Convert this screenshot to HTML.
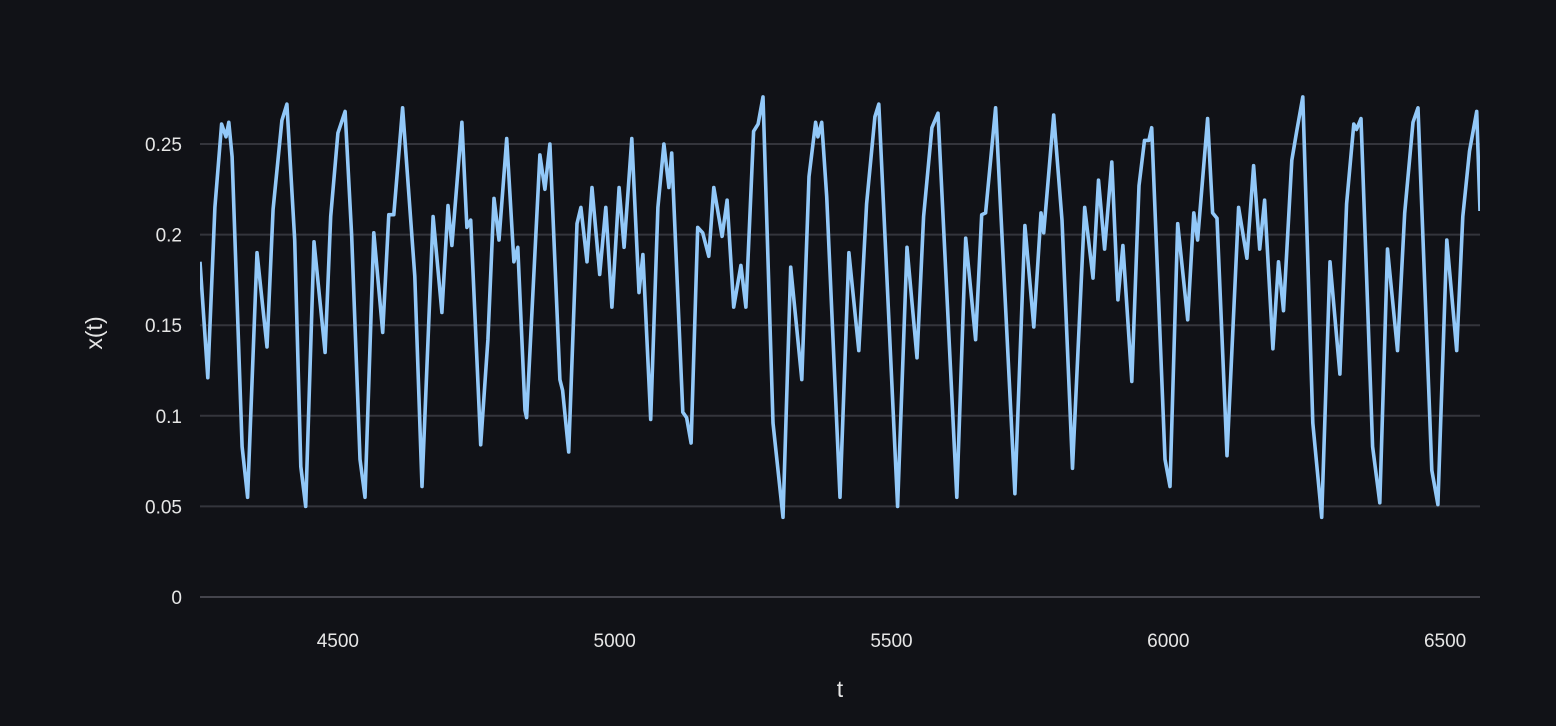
<!DOCTYPE html>
<html><head><meta charset="utf-8">
<style>
html,body{margin:0;padding:0;background:#111217;}
svg{display:block;font-family:"Liberation Sans",sans-serif;}
</style></head>
<body>
<svg id="chart" width="1556" height="726" viewBox="0 0 1556 726" xmlns="http://www.w3.org/2000/svg">
<rect x="0" y="0" width="1556" height="726" fill="#111217"/>
<defs><clipPath id="pc"><rect x="200" y="60" width="1280" height="560"/></clipPath></defs>
<g id="grid"></g>
<g id="yticks"></g>
<g id="xticks"></g>
<g clip-path="url(#pc)"><path id="line" fill="none" stroke="#92c8f8" stroke-width="3.6" stroke-linejoin="round"/></g>
<text x="0" y="0" transform="translate(102,333) rotate(-90)" text-anchor="middle" fill="#e6e6e6" font-size="23">x(t)</text>
<text x="840" y="697" text-anchor="middle" fill="#e6e6e6" font-size="23">t</text>
</svg>
<script>
const tValues=[4251,4265,4278,4290,4298,4303,4309,4327,4337,4354,4372,4383,4399,4408,4422,4433,4442,4457,4477,4487,4500,4513,4525,4540,4549,4565,4581,4592,4601,4617,4639,4652,4672,4688,4699,4706,4724,4733,4740,4758,4771,4782,4791,4805,4818,4825,4838,4841,4865,4874,4883,4901,4906,4917,4932,4939,4950,4959,4973,4984,4995,5008,5017,5031,5044,5051,5065,5078,5089,5098,5103,5123,5130,5138,5150,5159,5170,5179,5194,5203,5215,5228,5237,5251,5259,5268,5286,5304,5318,5338,5351,5363,5367,5374,5383,5407,5423,5441,5455,5470,5477,5511,5528,5546,5558,5573,5584,5618,5634,5652,5663,5670,5688,5723,5741,5757,5770,5775,5793,5808,5827,5849,5864,5874,5885,5898,5909,5918,5934,5947,5957,5965,5970,5994,6003,6017,6035,6046,6053,6071,6080,6088,6106,6127,6142,6154,6165,6174,6189,6199,6208,6223,6232,6243,6261,6277,6292,6310,6322,6335,6340,6348,6369,6382,6396,6414,6427,6442,6451,6476,6487,6503,6521,6532,6544,6557,6563];
const xValues=[0.185,0.121,0.215,0.261,0.254,0.262,0.243,0.083,0.055,0.190,0.138,0.214,0.263,0.272,0.197,0.072,0.050,0.196,0.135,0.210,0.256,0.268,0.199,0.076,0.055,0.201,0.146,0.211,0.211,0.270,0.177,0.061,0.210,0.157,0.216,0.194,0.262,0.204,0.208,0.084,0.142,0.220,0.197,0.253,0.185,0.193,0.103,0.099,0.244,0.225,0.250,0.120,0.114,0.080,0.206,0.215,0.185,0.226,0.178,0.215,0.160,0.226,0.193,0.253,0.168,0.189,0.098,0.215,0.250,0.226,0.245,0.102,0.099,0.085,0.204,0.201,0.188,0.226,0.199,0.219,0.160,0.183,0.160,0.257,0.261,0.276,0.096,0.044,0.182,0.120,0.232,0.262,0.254,0.262,0.221,0.055,0.190,0.136,0.217,0.265,0.272,0.050,0.193,0.132,0.210,0.259,0.267,0.055,0.198,0.142,0.211,0.212,0.270,0.057,0.205,0.149,0.212,0.201,0.266,0.208,0.071,0.215,0.176,0.230,0.192,0.240,0.164,0.194,0.119,0.227,0.252,0.252,0.259,0.076,0.061,0.206,0.153,0.212,0.197,0.264,0.212,0.209,0.078,0.215,0.187,0.238,0.192,0.219,0.137,0.185,0.158,0.241,0.257,0.276,0.096,0.044,0.185,0.123,0.217,0.261,0.258,0.264,0.083,0.052,0.192,0.136,0.212,0.262,0.270,0.070,0.051,0.197,0.136,0.210,0.246,0.268,0.213];
const yTickValues=[0,0.05,0.1,0.15,0.2,0.25];
const yTickLabels=["0","0.05","0.1","0.15","0.2","0.25"];
const xTickValues=[4500,5000,5500,6000,6500];
const xTickLabels=["4500","5000","5500","6000","6500"];

const X0=200,X1=1480,T0=4251,T1=6563;
function sx(t){return X0+(t-T0)/(T1-T0)*(X1-X0);}
function sy(v){return 597-v*1812;}
const NS="http://www.w3.org/2000/svg";
const grid=document.getElementById('grid'),yt=document.getElementById('yticks'),xt=document.getElementById('xticks');
yTickValues.forEach((v,i)=>{
  const l=document.createElementNS(NS,'line');
  
  
  l.setAttribute('x1',X0);l.setAttribute('x2',X1);l.setAttribute('y1',sy(v));l.setAttribute('y2',sy(v));
  l.setAttribute('stroke',i===0?'#44444c':'#34353c');l.setAttribute('stroke-width','2');
  grid.appendChild(l);
  const t=document.createElementNS(NS,'text');
  
  
  t.setAttribute('x',182);t.setAttribute('y',sy(v)+7);t.setAttribute('text-anchor','end');
  t.setAttribute('fill','#e6e6e6');t.setAttribute('font-size','19');
  t.textContent=yTickLabels[i];yt.appendChild(t);
});
xTickValues.forEach((v,i)=>{
  const t=document.createElementNS(NS,'text');
  
  
  t.setAttribute('x',sx(v));t.setAttribute('y',647);t.setAttribute('text-anchor','middle');
  t.setAttribute('fill','#e6e6e6');t.setAttribute('font-size','19');
  t.textContent=xTickLabels[i];xt.appendChild(t);
});
let d='';
tValues.forEach((t,i)=>{d+=(i?'L':'M')+sx(t).toFixed(1)+','+sy(xValues[i]).toFixed(1);});
document.getElementById('line').setAttribute('d',d);
</script>
</body></html>
